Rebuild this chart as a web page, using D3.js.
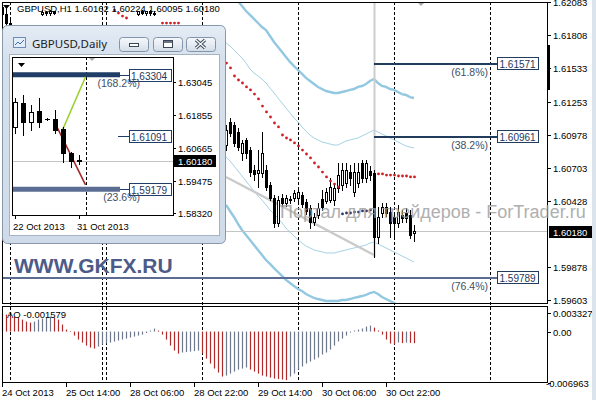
<!doctype html>
<html>
<head>
<meta charset="utf-8">
<script src="https://d3js.org/d3.v7.min.js"></script>
<style>
body{margin:0;background:#fff}
svg{display:block}
</style>
</head>
<body>
<svg id="chart" width="596" height="400"></svg>
<script>
// ---- H1 bars, index 0 = 24 Oct 22:00 (hidden part behind the daily window is estimated) ----
const barOpen = [1.62040,1.61985,1.61910,1.61850,1.61830,1.61790,1.61840,1.61860,1.61850,1.61880,
  1.61985,1.62000,1.61990,1.62005,1.61880,1.61800,1.61720,1.61630,1.61600,1.61540,
  1.61580,1.61560,1.61600,1.61650,1.61690,1.61700,1.61710,1.61750,1.61790,1.61760,
  1.61800,1.61840,1.61860,1.61870,1.61985,1.62005,1.61990,1.62005,1.61990,1.61880,
  1.61810,1.61720,1.61650,1.61580,1.61480,1.61420,1.61380,1.61280,1.61310,1.61220,
  1.61140,1.61060,1.61090,1.61120,1.60980,1.60920,1.60893,1.61084,1.61059,1.61001,
  1.60826,1.60935,1.60851,1.60685,1.60660,1.60660,1.60685,1.60560,1.60452,1.60244,
  1.60452,1.60410,1.60444,1.60452,1.60452,1.60477,1.60419,1.60369,1.60253,1.60311,
  1.60444,1.60427,1.60435,1.60435,1.60535,1.60560,1.60577,1.60668,1.60502,1.60577,
  1.60743,1.60618,1.60677,1.60660,1.60127,1.60327,1.60377,1.60335,1.60294,1.60244,
  1.60311,1.60327,1.60311,1.60162];
const barHigh = [1.62083,1.62030,1.61940,1.61880,1.61870,1.61860,1.61880,1.61890,1.61890,1.61895,
  1.62016,1.62012,1.62016,1.62010,1.61890,1.61840,1.61760,1.61680,1.61650,1.61600,
  1.61640,1.61620,1.61680,1.61720,1.61740,1.61730,1.61780,1.61820,1.61850,1.61830,
  1.61870,1.61880,1.61890,1.61895,1.62012,1.62016,1.62010,1.62016,1.62005,1.61895,
  1.61850,1.61760,1.61700,1.61610,1.61520,1.61480,1.61400,1.61330,1.61340,1.61260,
  1.61180,1.61120,1.61150,1.61140,1.61020,1.61000,1.61059,1.61118,1.61084,1.61034,
  1.60935,1.60951,1.60876,1.60727,1.60851,1.61001,1.60727,1.60585,1.60477,1.60469,
  1.60485,1.60477,1.60469,1.60518,1.60527,1.60502,1.60444,1.60394,1.60327,1.60410,
  1.60518,1.60535,1.60618,1.60577,1.60743,1.60743,1.60743,1.60727,1.60743,1.60743,
  1.60768,1.60768,1.60718,1.60685,1.60377,1.60410,1.60410,1.60377,1.60327,1.60394,
  1.60352,1.60369,1.60352,1.60224];
const barLow = [1.61960,1.61890,1.61820,1.61780,1.61760,1.61750,1.61800,1.61810,1.61800,1.61820,
  1.61975,1.61978,1.61975,1.61980,1.61780,1.61700,1.61600,1.61560,1.61500,1.61450,
  1.61520,1.61480,1.61560,1.61600,1.61650,1.61680,1.61660,1.61700,1.61740,1.61720,
  1.61760,1.61790,1.61800,1.61830,1.61975,1.61980,1.61975,1.61978,1.61975,1.61790,
  1.61700,1.61620,1.61560,1.61450,1.61380,1.61340,1.61250,1.61200,1.61180,1.61100,
  1.61020,1.60980,1.61030,1.60950,1.60880,1.60850,1.60851,1.60968,1.60885,1.60851,
  1.60768,1.60785,1.60635,1.60602,1.60543,1.60627,1.60518,1.60435,1.60211,1.60219,
  1.60385,1.60385,1.60410,1.60427,1.60419,1.60377,1.60319,1.60202,1.60227,1.60285,
  1.60352,1.60410,1.60419,1.60394,1.60502,1.60518,1.60543,1.60560,1.60469,1.60543,
  1.60585,1.60585,1.60602,1.59961,1.60077,1.60294,1.60302,1.60127,1.60127,1.60211,
  1.60253,1.60253,1.60119,1.60095];
const barClose = [1.61985,1.61910,1.61850,1.61830,1.61790,1.61840,1.61860,1.61850,1.61880,1.61870,
  1.62000,1.61990,1.62005,1.61988,1.61800,1.61720,1.61630,1.61600,1.61540,1.61580,
  1.61560,1.61600,1.61650,1.61690,1.61700,1.61710,1.61750,1.61790,1.61760,1.61800,
  1.61840,1.61860,1.61870,1.61880,1.62005,1.61990,1.62005,1.61990,1.61985,1.61810,
  1.61720,1.61650,1.61580,1.61480,1.61420,1.61380,1.61280,1.61310,1.61220,1.61140,
  1.61060,1.61090,1.61120,1.60980,1.60920,1.60893,1.61018,1.60993,1.60910,1.60876,
  1.60910,1.60826,1.60668,1.60652,1.60685,1.60826,1.60543,1.60452,1.60244,1.60435,
  1.60410,1.60452,1.60435,1.60494,1.60502,1.60402,1.60344,1.60252,1.60294,1.60369,
  1.60377,1.60502,1.60543,1.60535,1.60643,1.60685,1.60685,1.60618,1.60668,1.60668,
  1.60618,1.60743,1.60643,1.60127,1.60294,1.60377,1.60327,1.60244,1.60244,1.60335,
  1.60286,1.60286,1.60144,1.60180];

// Awesome Oscillator, one value per bar
const aoValues = [0.00244,0.00230,0.00217,0.00203,0.00190,0.00162,0.00135,0.00122,0.00135,0.00162,
  0.00176,0.00190,0.00203,0.00190,0.00162,0.00095,0.00027,0.00007,-0.00054,-0.00108,
  -0.00149,-0.00190,-0.00217,-0.00230,-0.00203,-0.00176,-0.00162,-0.00149,-0.00135,-0.00122,
  -0.00108,-0.00095,-0.00081,-0.00068,-0.00054,-0.00041,-0.00020,0.00014,0.00041,0.00014,
  -0.00041,-0.00108,-0.00190,-0.00257,-0.00298,-0.00284,-0.00278,-0.00271,-0.00264,-0.00257,
  -0.00298,-0.00366,-0.00433,-0.00501,-0.00555,-0.00609,-0.00596,-0.00569,-0.00542,-0.00515,
  -0.00501,-0.00487,-0.00515,-0.00542,-0.00569,-0.00596,-0.00609,-0.00623,-0.00636,-0.00643,
  -0.00650,-0.00657,-0.00609,-0.00569,-0.00515,-0.00474,-0.00433,-0.00406,-0.00379,-0.00352,
  -0.00311,-0.00284,-0.00244,-0.00190,-0.00135,-0.00095,-0.00054,-0.00014,0.00014,0.00027,
  0.00041,0.00068,0.00081,0.00054,0.00014,-0.00041,-0.00108,-0.00162,-0.00176,-0.00149,
  -0.00156,-0.00149,-0.00153,-0.001579];

// envelope bands, from bar 56 onward
const bandStart = 56;
const outerUpper = [1.62200,1.62158,1.62125,1.62091,1.62050,1.62008,1.61975,1.61942,1.61908,1.61875,
  1.61850,1.61800,1.61750,1.61708,1.61667,1.61625,1.61584,1.61550,1.61517,1.61484,
  1.61451,1.61426,1.61401,1.61376,1.61359,1.61342,1.61334,1.61326,1.61326,1.61334,
  1.61342,1.61351,1.61359,1.61376,1.61384,1.61401,1.61426,1.61442,1.61409,1.61384,
  1.61376,1.61359,1.61351,1.61334,1.61317,1.61309,1.61292,1.61284];
const innerUpper = [1.61742,1.61717,1.61684,1.61650,1.61617,1.61575,1.61525,1.61492,1.61467,1.61442,
  1.61409,1.61367,1.61326,1.61284,1.61242,1.61201,1.61159,1.61118,1.61084,1.61043,
  1.61009,1.60976,1.60951,1.60935,1.60918,1.60910,1.60901,1.60893,1.60893,1.60910,
  1.60926,1.60935,1.60943,1.60951,1.60968,1.60984,1.61001,1.61018,1.61001,1.60984,
  1.60968,1.60951,1.60935,1.60918,1.60901,1.60885,1.60876,1.60868];
const innerLower = [1.60793,1.60760,1.60718,1.60677,1.60635,1.60593,1.60552,1.60510,1.60469,1.60435,
  1.60394,1.60352,1.60319,1.60285,1.60244,1.60202,1.60169,1.60136,1.60102,1.60077,
  1.60052,1.60036,1.60019,1.60011,1.60003,1.59994,1.59994,1.59994,1.60003,1.60011,
  1.60019,1.60028,1.60036,1.60044,1.60052,1.60061,1.60077,1.60086,1.60069,1.60052,
  1.60036,1.60019,1.60003,1.59986,1.59969,1.59953,1.59936,1.59919];
const outerLower = [1.60394,1.60344,1.60294,1.60236,1.60186,1.60144,1.60102,1.60061,1.60019,1.59978,
  1.59936,1.59903,1.59869,1.59836,1.59803,1.59770,1.59745,1.59720,1.59695,1.59678,
  1.59653,1.59636,1.59620,1.59611,1.59603,1.59595,1.59595,1.59595,1.59595,1.59603,
  1.59603,1.59611,1.59620,1.59628,1.59636,1.59645,1.59661,1.59670,1.59653,1.59628,
  1.59611,1.59595,1.59578,1.59561,1.59553,1.59537,1.59528,1.59511];

// Parabolic SAR
const sarUpBars = [28,29,30,31,40,41,42,43,44,45,46,47,48,49,50,51,52,53,54,55,
  56,57,58,59,60,61,62,63,64,65,66,67,68,69,70,71,72,73,74,75,76,77,78,79,80,81,82,83,84,
  94,95,96,97,98,99,100,101,102,103];
const sarUpValues = [1.62016,1.61991,1.61966,1.61950,1.61908,1.61908,1.61908,1.61908,1.61908,
  1.61867,1.61842,1.61817,1.61792,1.61767,1.61742,1.61717,1.61692,1.61659,1.61625,1.61600,
  1.61575,1.61534,1.61467,1.61434,1.61409,1.61376,1.61351,1.61317,1.61276,1.61217,
  1.61168,1.61126,1.61076,1.61043,1.60976,1.60951,1.60935,1.60910,1.60885,1.60851,
  1.60818,1.60785,1.60743,1.60710,1.60668,1.60627,1.60593,1.60568,1.60543,
  1.60652,1.60652,1.60643,1.60643,1.60643,1.60635,1.60635,1.60635,1.60627,1.60627];
const sarDownBars = [85,86,87,88,89,90,91,92,93];
const sarDownValues = [1.60319,1.60327,1.60327,1.60335,1.60335,1.60344,1.60344,1.60352,1.60352];

// trend line (bar, price) ends
const trendBars = [56, 93];
const trendPrices = [1.60627, 1.59978];

const fibPrices = [1.61571, 1.60961, 1.59789];
const fibNames = ['(61.8%)', '(38.2%)', '(76.4%)'];
const fibFromBar = [93, 93, 0];

const priceTicks = [1.62083,1.61808,1.61533,1.61253,1.60978,1.60703,1.60428,1.59878,1.59603];
const lastPrice = 1.60180;
const aoTicks = [0.003327, 0.00, -0.006963];
const aoTickText = ['0.003327', '0.00', '-0.006963'];
const timeBars = [0, 16, 32, 48, 64, 80, 96];
const timeLabels = ['24 Oct 2013','25 Oct 14:00','28 Oct 06:00','28 Oct 22:00','29 Oct 14:00','30 Oct 06:00','30 Oct 22:00'];
const daySepBars = [2, 25, 26, 50, 74, 98, 122];
const header = 'GBPUSD,H1 1.60162 1.60224 1.60095 1.60180';

// ---- daily window ----
const dOpen  = [1.61422,1.62288,1.61603,1.61999,1.61711,1.61711,1.61350,1.60485,1.60232];
const dHigh  = [1.62468,1.62576,1.62216,1.62468,1.61747,1.62035,1.61422,1.60521,1.60413];
const dLow   = [1.61206,1.61134,1.61314,1.61422,1.61675,1.61206,1.60160,1.59980,1.60095];
const dClose = [1.62324,1.61603,1.61963,1.61603,1.61693,1.61314,1.60485,1.60196,1.60180];
const dTicks = [1.63045,1.61855,1.60665,1.59475,1.58320];
const dDateBars = [0, 8];
const dDateLabels = ['22 Oct 2013', '31 Oct 2013'];
const dFibPrices = [1.63304, 1.61091, 1.59179];
const dFibNames = ['(168.2%)', '', '(23.6%)'];
const dGreen = [[6, 1.61314], [9, 1.63225]];
const dRed = [[5, 1.61603], [9, 1.59331]];

const FONT = '"Liberation Sans", Arial, sans-serif';
const svg = d3.select('#chart');

const x = d3.scaleLinear().domain([0, 136]).range([2, 546]);
const y = d3.scaleLinear().domain([1.59603, 1.62083]).range([300, 2]);
const yAo = d3.scaleLinear().domain([-0.006963, 0.003327]).range([383, 307]);
const px = v => Math.round(v);

svg.append('rect').attr('width', 596).attr('height', 400).attr('fill', '#fff');

const defs = svg.append('defs');
defs.append('clipPath').attr('id', 'mainClip').append('rect')
  .attr('x', 2).attr('y', 2).attr('width', 546).attr('height', 302);
defs.append('clipPath').attr('id', 'dayClip').append('rect')
  .attr('x', 12).attr('y', 57).attr('width', 161).attr('height', 158);
const g1 = defs.append('linearGradient').attr('id', 'frameGrad').attr('x1', 0).attr('y1', 0).attr('x2', 0).attr('y2', 1);
g1.append('stop').attr('offset', '0').attr('stop-color', '#e4ecf5');
g1.append('stop').attr('offset', '0.15').attr('stop-color', '#d6e1ed');
g1.append('stop').attr('offset', '1').attr('stop-color', '#cfdbe8');
const g2 = defs.append('linearGradient').attr('id', 'btnGrad').attr('x1', 0).attr('y1', 0).attr('x2', 0).attr('y2', 1);
g2.append('stop').attr('offset', '0').attr('stop-color', '#f6f8fb');
g2.append('stop').attr('offset', '0.5').attr('stop-color', '#e6ecf3');
g2.append('stop').attr('offset', '1').attr('stop-color', '#d3dce7');

// day separators through both panels
svg.append('g').selectAll('line').data(daySepBars).join('line')
  .attr('x1', d => x(d) + 0.5).attr('x2', d => x(d) + 0.5)
  .attr('y1', 2).attr('y2', 383)
  .attr('stroke', '#000').attr('stroke-dasharray', '3,2');

const main = svg.append('g').attr('clip-path', 'url(#mainClip)');

// bands
const bandLine = d3.line().x((d, i) => x(bandStart + i)).y(d => y(d));
main.append('path').attr('d', bandLine(outerUpper)).attr('fill', 'none').attr('stroke', '#92c8e1').attr('stroke-width', 2.4);
main.append('path').attr('d', bandLine(outerLower)).attr('fill', 'none').attr('stroke', '#92c8e1').attr('stroke-width', 2.4);
main.append('path').attr('d', bandLine(innerUpper)).attr('fill', 'none').attr('stroke', '#a6d2e5').attr('stroke-width', 1);
main.append('path').attr('d', bandLine(innerLower)).attr('fill', 'none').attr('stroke', '#a6d2e5').attr('stroke-width', 1);

// trend line
main.append('line')
  .attr('x1', x(trendBars[0])).attr('y1', y(trendPrices[0]))
  .attr('x2', x(trendBars[1])).attr('y2', y(trendPrices[1]))
  .attr('stroke', '#cacaca').attr('stroke-width', 2.4);

// vertical anchor line of the fibo object
main.append('line')
  .attr('x1', x(93) + 0.5).attr('x2', x(93) + 0.5)
  .attr('y1', 2).attr('y2', y(barLow[93]))
  .attr('stroke', '#cdcdcd').attr('stroke-width', 2);

// bid line
main.append('line').attr('x1', 2).attr('x2', 548)
  .attr('y1', px(y(lastPrice)) + 0.5).attr('y2', px(y(lastPrice)) + 0.5)
  .attr('stroke', '#c4c4c4');

// fibo levels
fibPrices.forEach((p, k) => {
  const yy = px(y(p));
  main.append('line').attr('x1', x(fibFromBar[k])).attr('x2', 497)
    .attr('y1', yy).attr('y2', yy)
    .attr('stroke', k == 2 ? '#5b6c90' : '#223c5e').attr('stroke-width', 2);
  main.append('rect').attr('x', 497.5).attr('y', yy - 6.5).attr('width', 41).attr('height', 12)
    .attr('fill', '#fff').attr('stroke', '#223c5e');
  main.append('text').attr('x', 499.5).attr('y', yy + 3.5).text(p.toFixed(5))
    .attr('font-family', FONT).attr('font-size', 10).attr('fill', '#1f3658');
  main.append('text').attr('x', 488).attr('y', yy + 12).attr('text-anchor', 'end').text(fibNames[k])
    .attr('font-family', FONT).attr('font-size', 10.5).attr('fill', '#444e5e');
});

// candles
const bars = d3.range(barOpen.length);
main.append('g').selectAll('line').data(bars).join('line')
  .attr('x1', i => x(i) + 0.5).attr('x2', i => x(i) + 0.5)
  .attr('y1', i => px(y(barHigh[i]))).attr('y2', i => px(y(barLow[i])) + 1)
  .attr('stroke', '#000');
main.append('g').selectAll('rect').data(bars).join('rect')
  .attr('x', i => x(i) - 0.5)
  .attr('y', i => px(y(Math.max(barOpen[i], barClose[i]))) + 0.5)
  .attr('width', 2)
  .attr('height', i => Math.max(0.01, px(y(Math.min(barOpen[i], barClose[i]))) - px(y(Math.max(barOpen[i], barClose[i])))))
  .attr('fill', i => barClose[i] >= barOpen[i] ? '#fff' : '#000')
  .attr('stroke', '#000');

// SAR
main.append('g').selectAll('circle').data(sarUpBars).join('circle')
  .attr('cx', (d) => x(d) + 0.5).attr('cy', (d, i) => y(sarUpValues[i]))
  .attr('r', 1.4).attr('fill', '#cc1f24');
main.append('g').selectAll('circle').data(sarDownBars).join('circle')
  .attr('cx', (d) => x(d) + 0.5).attr('cy', (d, i) => y(sarDownValues[i]))
  .attr('r', 1.4).attr('fill', '#2b3a66');

// chart shift marker
svg.append('path').attr('d', 'M417,2 L425,2 L421,6 Z').attr('fill', '#a9a9a9');

// AO histogram
svg.append('g').selectAll('line').data(bars).join('line')
  .attr('x1', i => x(i) + 0.5).attr('x2', i => x(i) + 0.5)
  .attr('y1', yAo(0)).attr('y2', i => yAo(aoValues[i]))
  .attr('stroke', i => (i > 0 && aoValues[i] < aoValues[i - 1]) ? '#b02a2a' : '#6e7a8c')
  .attr('stroke-width', 1.2);
svg.append('text').attr('x', 7).attr('y', 318).text('AO ' + aoValues[aoValues.length - 1].toFixed(6))
  .attr('font-family', FONT).attr('font-size', 9.5).attr('fill', '#000');

// frames
svg.append('rect').attr('x', 2.5).attr('y', 2.5).attr('width', 545).attr('height', 301)
  .attr('fill', 'none').attr('stroke', '#000');
svg.append('rect').attr('x', 2.5).attr('y', 306.5).attr('width', 545).attr('height', 76)
  .attr('fill', 'none').attr('stroke', '#000');
svg.append('rect').attr('x', 547).attr('y', 45).attr('width', 3).attr('height', 45).attr('fill', '#000');

// price axis
const axisG = svg.append('g').attr('font-family', FONT).attr('font-size', 9.5);
priceTicks.forEach(p => {
  const yy = px(y(p));
  axisG.append('line').attr('x1', 548).attr('x2', 551).attr('y1', yy + 0.5).attr('y2', yy + 0.5).attr('stroke', '#000');
  axisG.append('text').attr('x', 553).attr('y', yy + 3.5).text(p.toFixed(5));
});
const ly = px(y(lastPrice));
axisG.append('rect').attr('x', 549).attr('y', ly - 5).attr('width', 44).attr('height', 12).attr('fill', '#000');
axisG.append('text').attr('x', 553).attr('y', ly + 4.5).text(lastPrice.toFixed(5)).attr('fill', '#fff');
aoTicks.forEach((v, k) => {
  const yy = k == 0 ? 313 : px(yAo(v));
  axisG.append('line').attr('x1', 548).attr('x2', 551).attr('y1', yy + 0.5).attr('y2', yy + 0.5).attr('stroke', '#000');
  axisG.append('text').attr('x', v < 0 ? 546 : 553).attr('y', yy + 3.5).text(aoTickText[k]);
});
// time axis
timeBars.forEach((b, k) => {
  axisG.append('line').attr('x1', x(b) + 0.5).attr('x2', x(b) + 0.5).attr('y1', 383).attr('y2', 387).attr('stroke', '#000');
  axisG.append('text').attr('x', x(b)).attr('y', 396).text(timeLabels[k]);
});

// watermark
svg.append('text').attr('x', 280).attr('y', 218).text('Портал для трейдеров - ForTrader.ru')
  .attr('font-family', FONT).attr('font-size', 18).attr('fill', '#9c9c9c').attr('opacity', 0.8);

// header
svg.append('path').attr('d', 'M3,5 L10,5 L6.5,9 Z').attr('fill', '#000');
svg.append('text').attr('x', 17).attr('y', 12).text(header)
  .attr('font-family', FONT).attr('font-size', 9.5).attr('fill', '#000');

// GKFX label
svg.append('text').attr('x', 14).attr('y', 273).text('WWW.GKFX.RU')
  .attr('font-family', FONT).attr('font-size', 21).attr('font-weight', 'bold').attr('fill', '#4d5b89');

// ---- daily child window ----
const win = svg.append('g');
win.append('rect').attr('x', 2.5).attr('y', 25.5).attr('width', 223).attr('height', 218).attr('rx', 5)
  .attr('fill', 'url(#frameGrad)').attr('stroke', '#8797ac');
win.append('rect').attr('x', 9.5).attr('y', 54.5).attr('width', 210).attr('height', 181)
  .attr('fill', '#fff').attr('stroke', '#a6b3c3');
// icon
win.append('rect').attr('x', 13.5).attr('y', 37.5).attr('width', 12).attr('height', 10).attr('fill', '#e3eefa').attr('stroke', '#6b8db8');
win.append('path').attr('d', 'M15,45 L18,42 L20,44 L24,40').attr('fill', 'none').attr('stroke', '#3c6fb0');
win.append('text').attr('x', 32).attr('y', 47.5).text('GBPUSD,Daily')
  .attr('font-family', '"Noto Sans", "Open Sans", sans-serif').attr('font-size', 11.5).attr('fill', '#222');
// buttons
[119, 153, 186].forEach((bx, k) => {
  win.append('rect').attr('x', bx + 0.5).attr('y', 37.5).attr('width', 29).attr('height', 14).attr('rx', 3)
    .attr('fill', 'url(#btnGrad)').attr('stroke', '#8393a8');
});
win.append('rect').attr('x', 129.5).attr('y', 43.5).attr('width', 9).attr('height', 3).attr('fill', '#fff').attr('stroke', '#3b4757');
win.append('rect').attr('x', 163.5).attr('y', 40.5).attr('width', 9).attr('height', 7).attr('fill', '#fff').attr('stroke', '#3b4757');
win.append('line').attr('x1', 164).attr('x2', 172).attr('y1', 42).attr('y2', 42).attr('stroke', '#3b4757').attr('stroke-width', 1.5);
win.append('path').attr('d', 'M196,40 L205,48 M205,40 L196,48').attr('stroke', '#3b4757').attr('stroke-width', 3.2);
win.append('path').attr('d', 'M196,40 L205,48 M205,40 L196,48').attr('stroke', '#fff').attr('stroke-width', 1.2);

const xd = d3.scaleLinear().domain([0, 8]).range([14.5, 78.5]);
const yd = d3.scaleLinear().domain([1.58320, 1.63045]).range([213, 82]);
const day = win.append('g').attr('clip-path', 'url(#dayClip)');
day.append('line').attr('x1', 12).attr('x2', 173).attr('y1', px(yd(lastPrice)) + 0.5).attr('y2', px(yd(lastPrice)) + 0.5).attr('stroke', '#c4c4c4');
day.append('line').attr('x1', px(xd(9)) - 0.5).attr('x2', px(xd(9)) - 0.5).attr('y1', 57).attr('y2', 215)
  .attr('stroke', '#000').attr('stroke-dasharray', '3,2');
dFibPrices.forEach((p, k) => {
  const yy = yd(p);
  if (k != 1) {
    day.append('line').attr('x1', 12).attr('x2', 120).attr('y1', yy).attr('y2', yy)
      .attr('stroke', k == 0 ? '#1f3d66' : '#5b6d93').attr('stroke-width', 5);
  }
  day.append('line').attr('x1', k == 1 ? 118 : 120).attr('x2', 129).attr('y1', px(yy) + 0.5).attr('y2', px(yy) + 0.5)
    .attr('stroke', '#1f3d66');
  day.append('rect').attr('x', 129.5).attr('y', px(yy) - 5.5).attr('width', 42).attr('height', 12)
    .attr('fill', '#fff').attr('stroke', '#1f3d66');
  day.append('text').attr('x', 131).attr('y', px(yy) + 4.5).text(p.toFixed(5))
    .attr('font-family', FONT).attr('font-size', 10).attr('fill', '#1f3658');
  if (dFibNames[k]) {
    day.append('text').attr('x', 140).attr('y', yy + 12).attr('text-anchor', 'end').text(dFibNames[k])
      .attr('font-family', FONT).attr('font-size', 10.5).attr('fill', '#444e5e');
  }
});
day.append('line').attr('x1', xd(dGreen[0][0])).attr('y1', yd(dGreen[0][1]))
  .attr('x2', xd(dGreen[1][0]) - 1).attr('y2', yd(dGreen[1][1])).attr('stroke', '#9ad12e').attr('stroke-width', 1.6);
day.append('line').attr('x1', xd(dRed[0][0])).attr('y1', yd(dRed[0][1]))
  .attr('x2', xd(dRed[1][0]) - 1).attr('y2', yd(dRed[1][1])).attr('stroke', '#a3262a').attr('stroke-width', 1.6);
const dBars = d3.range(dOpen.length);
day.append('g').selectAll('line').data(dBars).join('line')
  .attr('x1', k => px(xd(k)) + 0.5).attr('x2', k => px(xd(k)) + 0.5)
  .attr('y1', k => px(yd(dHigh[k]))).attr('y2', k => px(yd(dLow[k])) + 1).attr('stroke', '#000');
day.append('g').selectAll('rect').data(dBars).join('rect')
  .attr('x', k => px(xd(k)) - 1.5)
  .attr('y', k => px(yd(Math.max(dOpen[k], dClose[k]))) + 0.5)
  .attr('width', 4)
  .attr('height', k => Math.max(0.01, px(yd(Math.min(dOpen[k], dClose[k]))) - px(yd(Math.max(dOpen[k], dClose[k])))))
  .attr('fill', k => dClose[k] >= dOpen[k] ? '#fff' : '#000').attr('stroke', '#000');
day.append('path').attr('d', 'M18,63 L25,63 L21.5,67 Z').attr('fill', '#000');
day.append('path').attr('d', 'M88,57 L96,57 L92,61 Z').attr('fill', '#a9a9a9');

win.append('rect').attr('x', 12.5).attr('y', 57.5).attr('width', 161).attr('height', 158)
  .attr('fill', 'none').attr('stroke', '#000');
const dAxis = win.append('g').attr('font-family', FONT).attr('font-size', 9.5);
dTicks.forEach(p => {
  const yy = px(yd(p));
  dAxis.append('line').attr('x1', 173).attr('x2', 176).attr('y1', yy + 0.5).attr('y2', yy + 0.5).attr('stroke', '#000');
  dAxis.append('text').attr('x', 178).attr('y', yy + 3.5).text(p.toFixed(5));
});
const dly = px(yd(lastPrice));
dAxis.append('rect').attr('x', 174).attr('y', dly - 6).attr('width', 42).attr('height', 12).attr('fill', '#000');
dAxis.append('text').attr('x', 178).attr('y', dly + 3.5).text(lastPrice.toFixed(5)).attr('fill', '#fff');
dDateBars.forEach((b, k) => {
  dAxis.append('line').attr('x1', px(xd(b)) + 0.5).attr('x2', px(xd(b)) + 0.5).attr('y1', 215).attr('y2', 219).attr('stroke', '#000');
  dAxis.append('text').attr('x', xd(b) - 1.5).attr('y', 230).text(dDateLabels[k]);
});

// right window edge
svg.append('rect').attr('x', 592).attr('y', 0).attr('width', 4).attr('height', 400).attr('fill', '#dbe3ec');
</script>
</body>
</html>
